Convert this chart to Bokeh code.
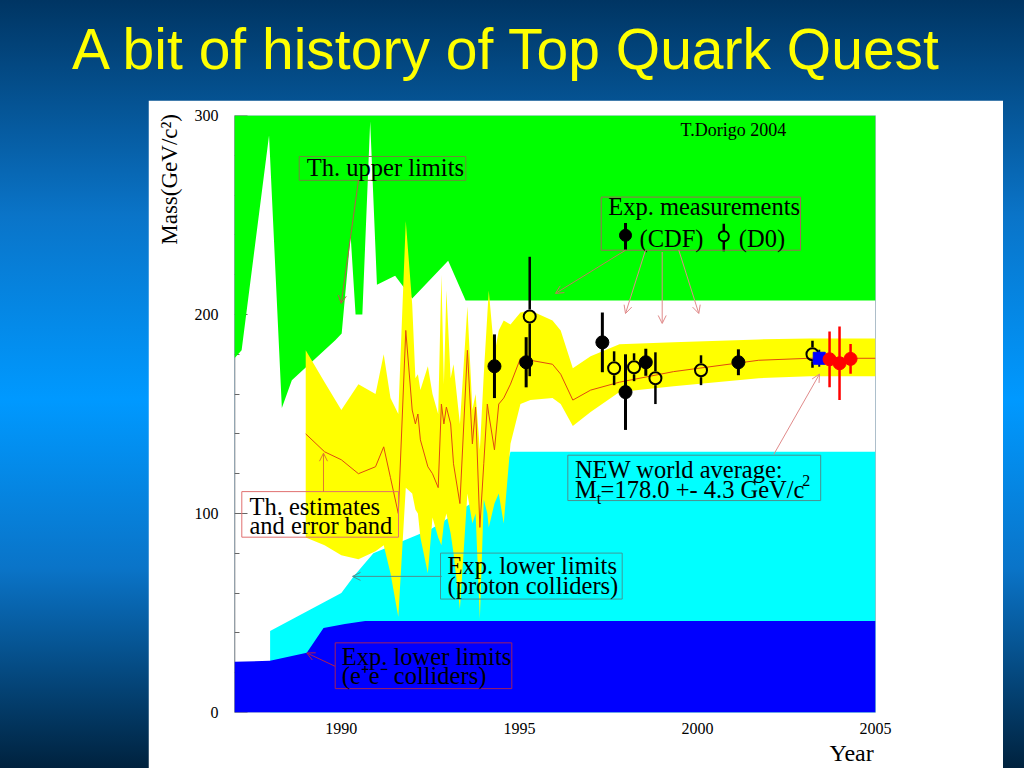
import math
from bokeh.plotting import figure
from bokeh.models import (Range1d, FixedTicker, LinearAxis, Label, Arrow, OpenHead,
                          Spacer, GlobalInlineStyleSheet, ColumnDataSource, BoxAnnotation)
from bokeh.layouts import column, row
from bokeh.embed import file_html
from bokeh.resources import INLINE

# ---------------- data ----------------
title_text = "A bit of history of Top Quark Quest"
x_title = "Year"
y_title = "Mass(GeV/c\u00b2)"
x_ticks = [1990, 1995, 2000, 2005]
y_ticks = [0, 100, 200, 300]
y_minor_ticks = [20, 40, 60, 80, 120, 140, 160, 180, 220, 240, 260, 280]

# theoretical upper limits (lower edge of green region)
ul_year = [1987.0, 1987.2, 1987.97, 1988.33, 1988.61, 1989.83, 1990.01, 1990.26, 1990.4,
           1990.59, 1990.81, 1991.0, 1991.51, 1991.99, 1993.0, 1993.49, 2005.0]
ul_mass = [178, 182, 290, 153, 167, 187, 190.5, 240, 200,
           200, 297, 215, 219.5, 208, 227, 207, 207]

# experimental lower limits, proton colliders
pp_year = [1988.0, 1990.0, 1990.35, 1990.9, 1992.5, 1993.9, 1994.55, 1994.75, 2005.0]
pp_mass = [41, 60, 68.5, 80, 92, 108, 118, 131, 131]

# experimental lower limits, e+e- colliders
ee_year = [1987.0, 1988.0, 1989.03, 1989.5, 1990.1, 1990.67, 2005.0]
ee_mass = [25.5, 26, 30, 42.5, 44.5, 46, 46]

# theoretical estimates and error band
th_year = [1989.0, 1989.53, 1990.0, 1990.48, 1990.96, 1991.19, 1991.38, 1991.6, 1991.81,
           1991.99, 1992.08, 1992.15, 1992.22, 1992.43, 1992.56, 1992.72, 1992.81, 1992.88,
           1992.95, 1993.07, 1993.15, 1993.33, 1993.54, 1993.68, 1993.77, 1993.89, 1994.0,
           1994.1, 1994.14, 1994.3, 1994.42, 1994.56, 1994.75, 1995.03, 1995.31, 1995.93,
           1996.16, 1996.5, 1997.0, 1997.81, 1999.33, 2001.72, 2003.15, 2005.0]
th_center = [140, 131, 127, 120, 123.5, 133.5, 118, 100, 192,
             152, 145, 150, 137, 123.5, 120, 113, 155, 145,
             153.5, 145, 125, 105, 182, 135, 153.5, 93, 125,
             155, 150, 132, 155, 158, 165, 178, 177, 175,
             170, 157, 162, 166, 171.3, 177, 178, 178]
th_lo = [88, 84, 79, 77, 81, 84, 70, 48, 113,
         110, 102, 100, 88, 70, 98, 88, 84, 95,
         100, 90, 80, 52, 110, 95, 100, 47, 107,
         100, 93, 105, 110, 95, 135, 155, 157, 158,
         155, 144, 151, 161, 164, 168, 169, 169]
th_hi = [182, 166, 152, 165, 160, 180, 158, 150, 247,
         205, 168, 170, 162, 174, 160, 150, 220, 165,
         212, 168, 175, 145, 204, 152, 160, 132, 170,
         200, 212, 180, 192, 197, 195, 201, 202, 197,
         192, 173, 179, 185, 186, 187.5, 188, 188]

# measurements
cdf_year = [1994.30, 1995.19, 1997.33, 1997.98, 1998.55, 2001.15]
cdf_mass = [174, 176, 186, 161, 176, 176]
cdf_err = [16, 12.6, 15, 19, 6.8, 6.5]

d0_year = [1995.29, 1997.66, 1998.22, 1998.82, 2000.10, 2003.23]
d0_mass = [199, 173, 173.5, 168, 172, 180]
d0_err = [30, 8.5, 7, 13, 7.5, 6.8]

wa_year = [2003.42]
wa_mass = [178.0]
wa_err = [4.3]

new_year = [2003.71, 2003.99, 2004.30]
new_mass = [177.5, 175.5, 177.7]
new_err = [14, 18.5, 7.5]

# ---------------- figure ----------------
X0, X1 = 1987, 2005
Y0, Y1 = 0, 300
FRAME_H = 598
PX_PER_UNIT = FRAME_H / (Y1 - Y0)
SERIF = "Liberation Serif"
BASE_SHIFT = 0.31  # label anchor correction, in em

p = figure(width=855, height=668, x_range=Range1d(X0, X1), y_range=Range1d(Y0, Y1),
           output_backend="svg", toolbar_location=None,
           min_border_left=86, min_border_right=128, min_border_top=15, min_border_bottom=55,
           background_fill_color="white", border_fill_color="white", outline_line_color=None)
p.grid.visible = False

xa = p.xaxis[0]
xa.ticker = FixedTicker(ticks=x_ticks)
xa.axis_line_color = None
xa.major_tick_line_color = None
xa.minor_tick_line_color = None
xa.major_label_text_font = SERIF
xa.major_label_text_font_size = "16px"
xa.major_label_text_color = "black"
xa.major_label_standoff = 4

# x axis title placed at the right end (as a single overridden tick label)
YEAR_POS = 2004.33
xt = LinearAxis(ticker=FixedTicker(ticks=[YEAR_POS]), major_label_overrides={YEAR_POS: x_title},
                axis_line_color=None, major_tick_line_color=None, minor_tick_line_color=None,
                major_tick_in=0, major_tick_out=0,
                major_label_text_font=SERIF, major_label_text_font_size="24px",
                major_label_text_color="black", major_label_standoff=3)
p.add_layout(xt, "below")

# y axis drawn beneath the fills (line + ticks only)
ya = p.yaxis[0]
ya.ticker = FixedTicker(ticks=y_ticks, minor_ticks=y_minor_ticks)
ya.major_tick_in = 13
ya.major_tick_out = 0
ya.minor_tick_in = 5
ya.minor_tick_out = 0
ya.axis_line_color = "#666666"
ya.axis_line_width = 1.5
ya.major_tick_line_color = "#666666"
ya.minor_tick_line_color = "#666666"
ya.major_label_text_color = None
ya.major_label_standoff = 0
ya.level = "underlay"

# y tick labels (on top, no line / ticks)
yl = LinearAxis(ticker=FixedTicker(ticks=y_ticks), axis_line_color=None,
                major_tick_line_color=None, minor_tick_line_color=None,
                major_tick_out=0, major_tick_in=0,
                major_label_text_font=SERIF, major_label_text_font_size="16px",
                major_label_text_color="black", major_label_standoff=16)
p.add_layout(yl, "left")

# y axis title near the top (as a single overridden tick label)
MASS_POS = 267.9
yt = LinearAxis(ticker=FixedTicker(ticks=[MASS_POS]), major_label_overrides={MASS_POS: y_title},
                axis_line_color=None, major_tick_line_color=None, minor_tick_line_color=None,
                major_tick_out=0, major_tick_in=0, major_label_orientation="parallel",
                major_label_text_font=SERIF, major_label_text_font_size="23px",
                major_label_text_color="black", major_label_standoff=9)
p.add_layout(yt, "left")

ra = LinearAxis(ticker=FixedTicker(ticks=[]), axis_line_color="#999999",
                major_tick_line_color=None, minor_tick_line_color=None,
                major_label_text_color=None, major_label_standoff=0)
ra.level = "underlay"
p.add_layout(ra, "right")

# filled regions
p.varea(x=ul_year, y1=ul_mass, y2=[Y1] * len(ul_year), fill_color="#00ff00")
p.varea(x=pp_year, y1=[Y0] * len(pp_year), y2=pp_mass, fill_color="#00ffff")
p.varea(x=ee_year, y1=[Y0] * len(ee_year), y2=ee_mass, fill_color="#0000ff")
p.varea(x=th_year, y1=th_lo, y2=th_hi, fill_color="#ffff00")
p.line(th_year, th_center, line_color="#e04a10", line_width=1)

# marker radius in data units (for open markers, bars stop at the edge)
OPEN_SIZE = 12
r_data = (OPEN_SIZE / 2 + 1) / PX_PER_UNIT

# CDF
cdf = ColumnDataSource(dict(x=cdf_year, y=cdf_mass,
                            lo=[m - e for m, e in zip(cdf_mass, cdf_err)],
                            hi=[m + e for m, e in zip(cdf_mass, cdf_err)]))
p.segment(x0="x", y0="lo", x1="x", y1="hi", source=cdf, line_color="black", line_width=3)
p.scatter(x="x", y="y", source=cdf, marker="circle", size=13,
          fill_color="black", line_color="black")

# D0
d0 = ColumnDataSource(dict(x=d0_year, y=d0_mass,
                           lo=[m - e for m, e in zip(d0_mass, d0_err)],
                           lo2=[m - r_data for m in d0_mass],
                           hi=[m + e for m, e in zip(d0_mass, d0_err)],
                           hi2=[m + r_data for m in d0_mass]))
p.segment(x0="x", y0="lo", x1="x", y1="lo2", source=d0, line_color="black", line_width=2.5)
p.segment(x0="x", y0="hi2", x1="x", y1="hi", source=d0, line_color="black", line_width=2.5)
p.scatter(x="x", y="y", source=d0, marker="circle", size=OPEN_SIZE,
          fill_color=None, line_color="black", line_width=2)

# world average
wa = ColumnDataSource(dict(x=wa_year, y=wa_mass,
                           lo=[m - e for m, e in zip(wa_mass, wa_err)],
                           hi=[m + e for m, e in zip(wa_mass, wa_err)]))
p.segment(x0="x", y0="lo", x1="x", y1="hi", source=wa, line_color="#000060", line_width=2)
p.scatter(x="x", y="y", source=wa, marker="square", size=12,
          fill_color="#0000ff", line_color="#0000ff")

# new measurements (red)
nw = ColumnDataSource(dict(x=new_year, y=new_mass,
                           lo=[m - e for m, e in zip(new_mass, new_err)],
                           hi=[m + e for m, e in zip(new_mass, new_err)]))
p.segment(x0="x", y0="lo", x1="x", y1="hi", source=nw, line_color="#ff0000", line_width=2.5)
p.scatter(x="x", y="y", source=nw, marker="circle", size=13,
          fill_color="#ff0000", line_color="#ff0000")


# ---------------- annotations ----------------
def label(x, y, text, size=24.5, align="left", color="black", font=SERIF):
    y_adj = y + BASE_SHIFT * size / PX_PER_UNIT
    p.add_layout(Label(x=x, y=y_adj, text=text, text_font=font, text_font_size=f"{size}px",
                       text_align=align, text_baseline="alphabetic",
                       text_color=color))


def box(l, r, t, b, color):
    p.add_layout(BoxAnnotation(left=l, right=r, top=t, bottom=b, fill_alpha=0,
                               fill_color=None, line_color=color, line_width=1,
                               line_alpha=1))


def arrow(x0, y0, x1, y1, color):
    p.add_layout(Arrow(end=OpenHead(size=8, line_color=color, line_width=1),
                       x_start=x0, y_start=y0, x_end=x1, y_end=y1,
                       line_color=color, line_width=1))


# Th. upper limits
box(1988.817, 1993.495, 279.4, 267.4, "#6f8a3a")
label(1989.03, 269.9, "Th. upper limits")
arrow(1990.482, 267.4, 1989.996, 205.5, "#b85a4a")

# T.Dorigo
label(1999.524, 290.0, "T.Dorigo 2004", size=18)

# Exp. measurements legend box
box(1997.297, 2002.894, 259.0, 232.3, "#a0685a")
label(1997.494, 250.3, "Exp. measurements")
label(1998.373, 234.3, "(CDF)")
label(2001.161, 234.3, "(D0)")
p.segment(x0=[1997.98], y0=[232.6], x1=[1997.98], y1=[246.0], line_color="black", line_width=3)
p.scatter(x=[1997.98], y=[239.8], marker="circle", size=12, fill_color="black", line_color="black")
p.segment(x0=[2000.74, 2000.74], y0=[231.8, 239.3 + r_data - 0.8], x1=[2000.74, 2000.74],
          y1=[239.3 - r_data + 0.8, 245.6], line_color="black", line_width=2.5)
p.scatter(x=[2000.74], y=[239.3], marker="circle", size=10, fill_color=None,
          line_color="black", line_width=2)
arrow(1997.98, 232.3, 1996.014, 210.6, "#c07a60")
arrow(1998.541, 232.3, 1997.98, 200.5, "#e08a8a")
arrow(1999.01, 231.4, 1999.01, 195.5, "#e08a8a")
arrow(1999.477, 232.3, 2000.038, 200.5, "#e08a8a")

# NEW world average
box(1996.36, 2003.461, 129.3, 106.5, "#4c8e8e")
label(1996.559, 118.4, "NEW world average:")
label(1996.559, 108.2, "M")
label(1997.17, 105.3, "t", size=16)
label(1997.28, 108.2, "=178.0 +- 4.3 GeV/c")
label(2002.94, 114.3, "2", size=16)
arrow(2002.147, 129.8, 2003.428, 170.1, "#e08a8a")

# Th. estimates and error band
box(1987.205, 1991.605, 111.0, 88.1, "#e07070")
label(1987.421, 99.8, "Th. estimates")
label(1987.421, 90.2, "and error band")
arrow(1989.499, 111.0, 1989.499, 130.3, "#e07a30")

# Exp. lower limits (proton colliders)
box(1992.785, 1997.887, 80.1, 57.0, "#3f9a9a")
label(1992.981, 70.1, "Exp. lower limits")
label(1992.981, 60.1, "(proton colliders)")
arrow(1992.821, 68.4, 1990.314, 68.4, "#4f8f8f")

# Exp. lower limits (e+e- colliders)
box(1989.828, 1994.787, 35.0, 12.0, "#a02060")
label(1990.013, 24.4, "Exp. lower limits")
label(1990.013, 14.9, "(e\u207ae\u207b colliders)")
arrow(1989.828, 23.2, 1989.03, 29.9, "#b02050")

# ---------------- title ----------------
tf = figure(width=1016, height=100, x_range=Range1d(0, 1016), y_range=Range1d(0, 100),
            output_backend="svg", toolbar_location=None,
            x_axis_location=None, y_axis_location=None, min_border=0,
            background_fill_color=None, border_fill_color=None, outline_line_color=None)
tf.grid.visible = False
TITLE_SIZE = 57
tf.add_layout(Label(x=507, y=34 + BASE_SHIFT * TITLE_SIZE, text=title_text,
                    text_font="Liberation Sans",
                    text_font_size=f"{TITLE_SIZE}px", text_color="#ffff00", text_align="center",
                    text_baseline="alphabetic"))

css = GlobalInlineStyleSheet(css="""
html { min-height: 100%;
  background: linear-gradient(180deg, #003563 0%, #0a74c8 28%, #0099ff 52%, #0a74c8 74%, #00223e 100%); }
body { background: transparent; }
""")

layout = column(tf, row(Spacer(width=148, height=668), p), stylesheets=[css])

open("out.html", "w").write(file_html(layout, INLINE))
